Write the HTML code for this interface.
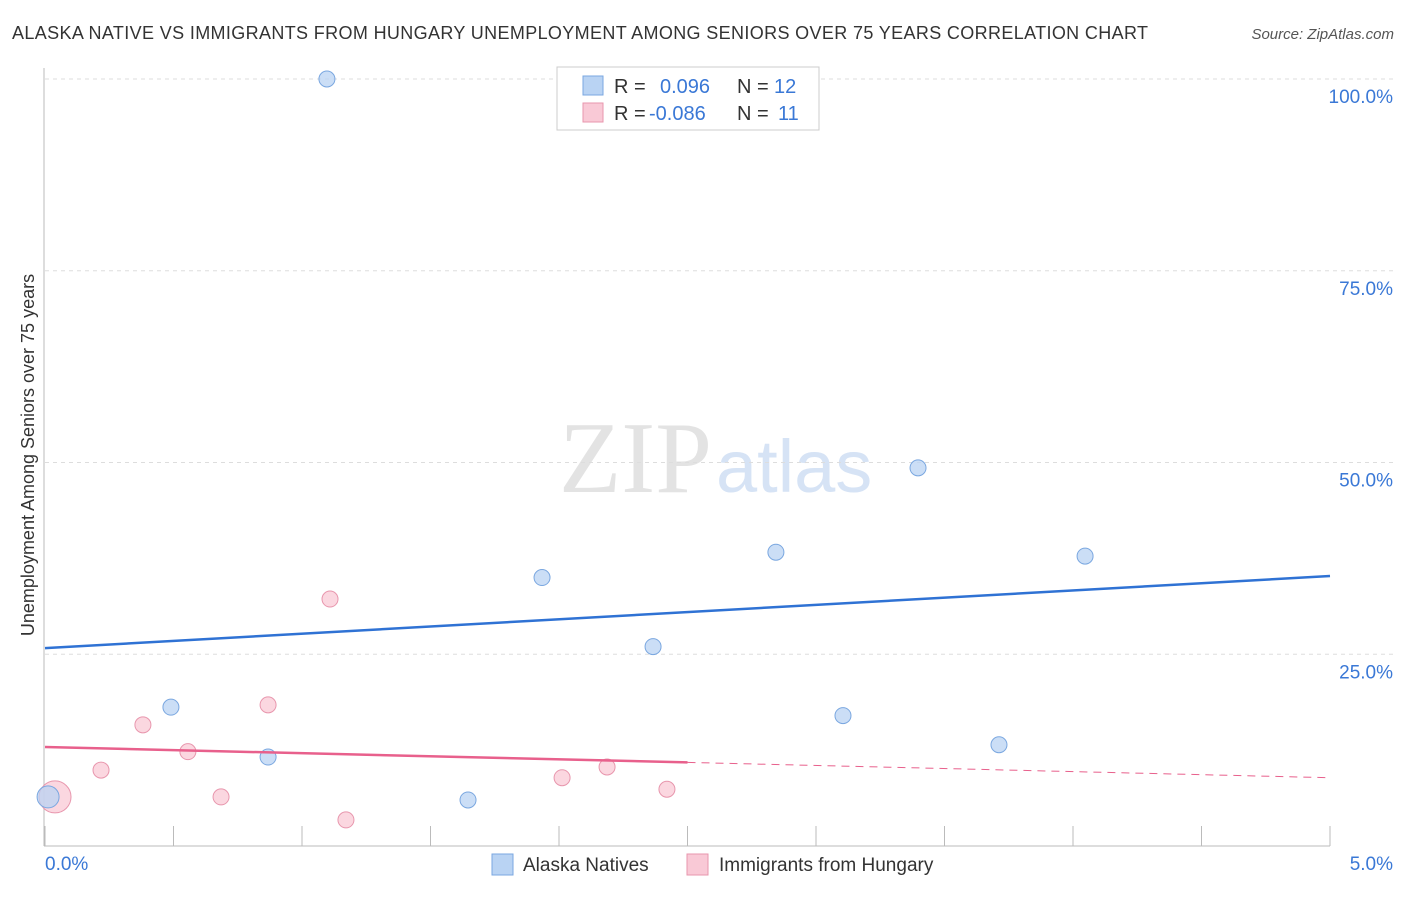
<!DOCTYPE html>
<html><head><meta charset="utf-8"><style>
body{margin:0;background:#fff;font-family:"Liberation Sans",sans-serif;}
</style></head><body>
<svg width="1406" height="892" xmlns="http://www.w3.org/2000/svg" id="chart">
<text x="12" y="39" font-size="18" fill="#333" textLength="1136">ALASKA NATIVE VS IMMIGRANTS FROM HUNGARY UNEMPLOYMENT AMONG SENIORS OVER 75 YEARS CORRELATION CHART</text>
<text x="1394" y="39" font-size="15" fill="#555" font-style="italic" text-anchor="end">Source: ZipAtlas.com</text>
<text x="712" y="492" font-size="102" fill="#e3e3e3" text-anchor="end" font-family="Liberation Serif">ZIP</text>
<text x="716" y="492" font-size="74" fill="#d6e3f5">atlas</text>
<text transform="translate(34,455) rotate(-90)" font-size="18" fill="#333" text-anchor="middle">Unemployment Among Seniors over 75 years</text>
<g id="grid"></g><g id="marks"></g>
<g>
<rect x="557" y="67" width="262" height="63" fill="#fff" stroke="#ccc"/>
<rect x="583" y="76" width="20" height="19" fill="#b9d3f3" stroke="#7aa7e0"/>
<rect x="583" y="103" width="20" height="19" fill="#f9c9d6" stroke="#e896ad"/>
<text x="614" y="93" font-size="20" fill="#333">R = <tspan x="660" fill="#3a78d6">0.096</tspan><tspan x="737" fill="#333">N = </tspan><tspan x="774" fill="#3a78d6">12</tspan></text>
<text x="614" y="120" font-size="20" fill="#333">R = <tspan x="649" fill="#3a78d6">-0.086</tspan><tspan x="737" fill="#333">N = </tspan><tspan x="778" fill="#3a78d6">11</tspan></text>
</g>
<g>
<rect x="492" y="854" width="21" height="21" fill="#b9d3f3" stroke="#7aa7e0"/>
<text x="523" y="871" font-size="19" fill="#333">Alaska Natives</text>
<rect x="687" y="854" width="21" height="21" fill="#f9c9d6" stroke="#e896ad"/>
<text x="719" y="871" font-size="19" fill="#333">Immigrants from Hungary</text>
</g>
</svg>
<script>
const xTicks=[0,5];
const yTicks=[25,50,75,100];
const blueX=[1.097,0.49,0.868,0.012,1.646,1.934,2.366,2.844,3.105,3.397,3.712,4.047];
const blueY=[100,18.1,11.6,6.4,6.0,35.0,26.0,38.3,17.0,49.3,13.2,37.8];
const pinkX=[0.039,0.218,0.381,0.556,0.685,0.868,1.109,1.171,2.012,2.187,2.420];
const pinkY=[6.4,9.9,15.8,12.3,6.4,18.4,32.2,3.4,8.9,10.3,7.4];
const blueTrend=[25.8,35.2];
const pinkTrend=[12.9,8.9];
const pinkSolidEnd=2.5;
const NS="http://www.w3.org/2000/svg";
const xs=v=>45+v/5*1285, ys=v=>846-v*7.67;
function mk(tag,attrs,parent){const e=document.createElementNS(NS,tag);for(const k in attrs)e.setAttribute(k,attrs[k]);document.getElementById(parent).appendChild(e);return e;}
yTicks.forEach(t=>{const l=mk('line',{x1:45,x2:1393,y1:ys(t),y2:ys(t),stroke:'#ddd','stroke-dasharray':'4,4'},'grid');


const tx=mk('text',{x:1393,y:ys(t)+24,'font-size':19,fill:'#3a78d6','text-anchor':'end'},'grid');tx.textContent=t.toFixed(1)+'%';

});
const ax=mk('line',{x1:44,x2:44,y1:68,y2:846,stroke:'#bbb'},'grid');


const bx=mk('line',{x1:44,x2:1330,y1:846,y2:846,stroke:'#bbb'},'grid');


for(let i=0;i<=10;i++){const t=mk('line',{x1:xs(i/2),x2:xs(i/2),y1:826,y2:846,stroke:'#bbb'},'grid');

}
xTicks.forEach(t=>{const tx=mk('text',{x:t==0?45:1393,y:870,'font-size':19,fill:'#3a78d6','text-anchor':t==0?'start':'end'},'grid');tx.textContent=t.toFixed(1)+'%';

});
pinkX.forEach((x,i)=>{const c=mk('circle',{cx:xs(x),cy:ys(pinkY[i]),r:i==0?16:8,fill:'#f9c9d6','fill-opacity':0.75,stroke:'#e896ad'},'marks');

});
blueX.forEach((x,i)=>{const c=mk('circle',{cx:xs(x),cy:ys(blueY[i]),r:i==3?11:8,fill:'#b9d3f3','fill-opacity':0.75,stroke:'#7aa7e0'},'marks');

});
const pAt=x=>pinkTrend[0]+(pinkTrend[1]-pinkTrend[0])*x/5;
const bl=mk('line',{x1:xs(0),y1:ys(blueTrend[0]),x2:xs(5),y2:ys(blueTrend[1]),stroke:'#2f72d4','stroke-width':2.5},'marks');


const pl=mk('line',{x1:xs(0),y1:ys(pAt(0)),x2:xs(pinkSolidEnd),y2:ys(pAt(pinkSolidEnd)),stroke:'#e8608c','stroke-width':2.5},'marks');


const pd=mk('line',{x1:xs(pinkSolidEnd),y1:ys(pAt(pinkSolidEnd)),x2:xs(5),y2:ys(pAt(5)),stroke:'#e8608c','stroke-width':1,'stroke-dasharray':'8,6'},'marks');


</script>
</body></html>
